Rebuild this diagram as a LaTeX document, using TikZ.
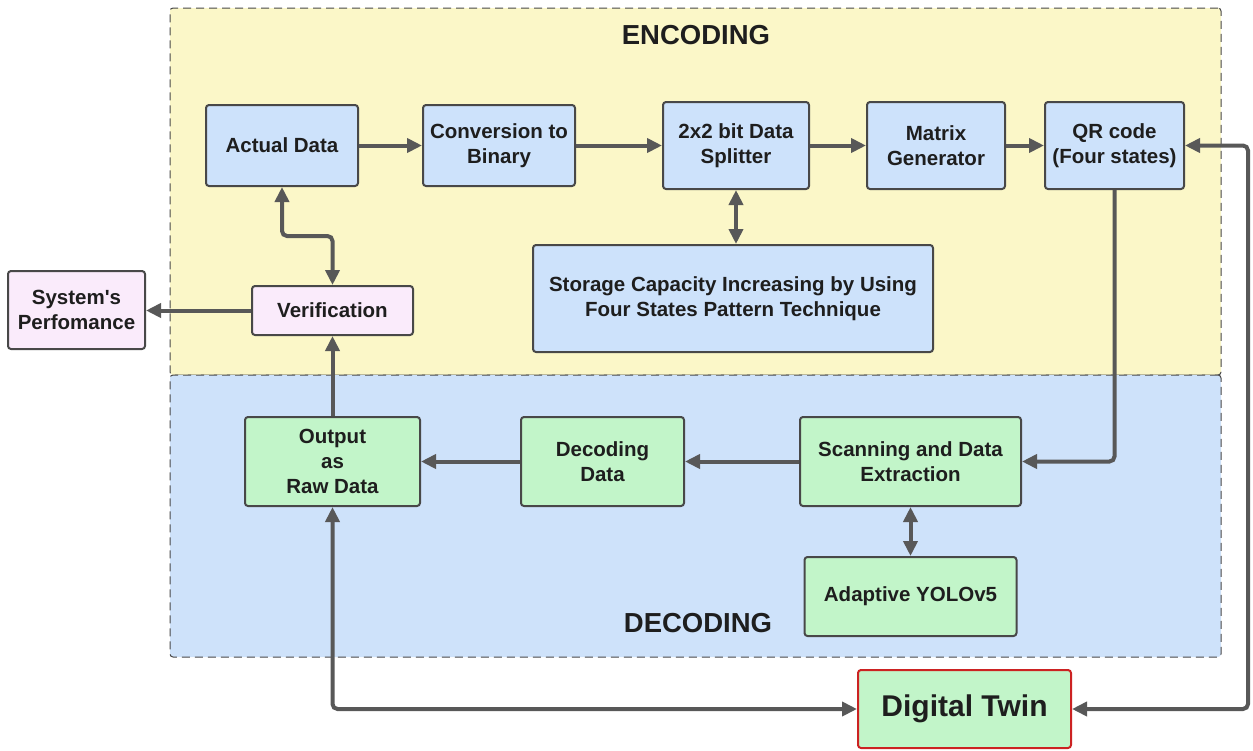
\documentclass[tikz,border=0pt]{standalone}
\usepackage{fontspec}
\setmainfont{Liberation Sans}
\usetikzlibrary{arrows.meta}
\definecolor{encfill}{RGB}{251,247,200}
\definecolor{decfill}{RGB}{206,226,250}
\definecolor{bluefill}{RGB}{205,226,251}
\definecolor{greenfill}{RGB}{194,245,201}
\definecolor{pinkfill}{RGB}{250,235,251}
\definecolor{edgegray}{RGB}{72,72,72}
\definecolor{linegray}{RGB}{88,88,88}
\definecolor{dtred}{RGB}{204,34,34}
\definecolor{textcol}{RGB}{30,30,30}
\tikzset{
  region/.style={draw=edgegray, line width=1pt, dash pattern=on 8pt off 5pt, rounded corners=3pt, inner sep=0pt},
  blk/.style={draw=edgegray, line width=2pt, rounded corners=3pt, align=center, text=textcol,
    font=\bfseries\fontsize{20.5}{25}\selectfont, inner sep=2pt},
  bluebox/.style={blk, fill=bluefill},
  greenbox/.style={blk, fill=greenfill},
  pinkbox/.style={blk, fill=pinkfill},
  arr/.style={draw=linegray, line width=4pt, -{Triangle[length=15pt,width=14pt]}},
  darr/.style={draw=linegray, line width=4pt, {Triangle[length=15pt,width=14pt]}-{Triangle[length=15pt,width=14pt]}},
  ttl/.style={text=textcol, font=\bfseries\fontsize{27.5}{30}\selectfont}
}
\begin{document}
\begin{tikzpicture}[x=1pt,y=-1pt]
\useasboundingbox (0,0) rectangle (1253,750);
% regions
\node[region, fill=encfill, minimum width=1051pt, minimum height=367pt] (enc) at (695.5,191.5) {};
\node[region, fill=decfill, minimum width=1051pt, minimum height=282pt] (dec) at (695.5,516) {};
\node[ttl] (enct) at (696,35) {ENCODING};
\node[ttl] (dect) at (698,623) {DECODING};
% encoding nodes
\node[bluebox, minimum width=152pt, minimum height=81pt] (ad) at (282,145.5) {Actual Data};
\node[bluebox, minimum width=152pt, minimum height=81pt] (cb) at (499,145.5) {Conversion to\\Binary};
\node[bluebox, minimum width=146pt, minimum height=87pt] (sp) at (736,145.5) {2x2 bit Data\\Splitter};
\node[bluebox, minimum width=138pt, minimum height=87pt] (mg) at (936,145.5) {Matrix\\Generator};
\node[bluebox, minimum width=139pt, minimum height=87pt] (qr) at (1114.5,145.5) {QR code\\(Four states)};
\node[bluebox, minimum width=400pt, minimum height=107pt] (st) at (733,298.5) {Storage Capacity Increasing by Using\\Four States Pattern Technique};
\node[pinkbox, minimum width=161pt, minimum height=49pt] (ver) at (332.5,310.5) {Verification};
\node[pinkbox, minimum width=137pt, minimum height=78pt] (sys) at (76.5,310) {System\textquotesingle s\\Perfomance};
% decoding nodes
\node[greenbox, minimum width=175pt, minimum height=89pt] (out) at (332.5,461.5) {Output\\as\\Raw Data};
\node[greenbox, minimum width=163pt, minimum height=89pt] (dd) at (602.5,461.5) {Decoding\\Data};
\node[greenbox, minimum width=221pt, minimum height=89pt] (sc) at (910.5,461.5) {Scanning and Data\\Extraction};
\node[greenbox, minimum width=212pt, minimum height=79pt] (yo) at (910.5,596.5) {Adaptive YOLOv5};
\node[blk, fill=greenfill, draw=dtred, minimum width=213pt, minimum height=78pt, font=\bfseries\fontsize{30}{34}\selectfont] (dt) at (964.5,709) {Digital Twin};
\coordinate (rc) at (1248,0);
% connectors
\draw[arr] (ad) -- (cb);
\draw[arr] (cb) -- (sp);
\draw[arr] (sp) -- (mg);
\draw[arr] (mg) -- (qr);
\draw[darr] (sp.south) -- (sp.south |- st.north);
\draw[darr, rounded corners=5pt] (ad.south) -- ++(0,49) -| (ver.north);
\draw[arr] (ver.west) -- (ver.west -| sys.east);
\draw[arr] (out.north) -- (ver.south);
\draw[arr, rounded corners=5pt] (qr.south) -- (qr.south |- sc.east) -- (sc.east);
\draw[arr] (sc) -- (dd);
\draw[arr] (dd) -- (out);
\draw[darr] (sc.south) -- (yo.north);
\draw[darr, rounded corners=5pt] (out.south) |- (dt.west);
\draw[darr, rounded corners=5pt] (qr.east) -- (qr.east -| rc) |- (dt.east);
\end{tikzpicture}
\end{document}
